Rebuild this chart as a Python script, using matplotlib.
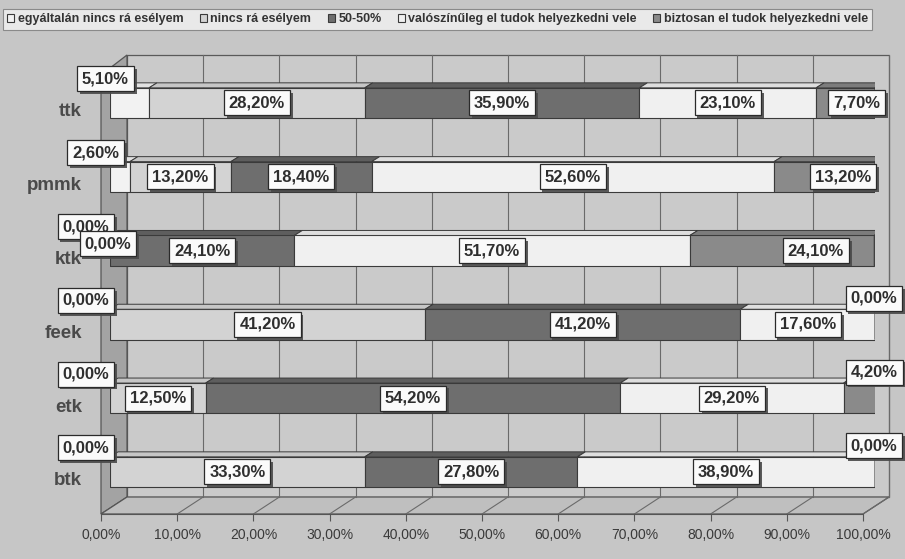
import numpy as np
import matplotlib.pyplot as plt
from matplotlib.patches import Polygon, Rectangle
import matplotlib.patheffects as pe
from matplotlib.ticker import FuncFormatter

plt.rcParams['font.family'] = ['Liberation Sans', 'DejaVu Sans']

# data (percent), rows top to bottom
categories = ['ttk', 'pmmk', 'ktk', 'feek', 'etk', 'btk']
series = ['egyáltalán nincs rá esélyem', 'nincs rá esélyem', '50-50%',
          'valószínűleg el tudok helyezkedni vele',
          'biztosan el tudok helyezkedni vele']
egyaltalan = [5.1, 2.6, 0.0, 0.0, 0.0, 0.0]
nincs = [28.2, 13.2, 0.0, 41.2, 12.5, 33.3]
otven = [35.9, 18.4, 24.1, 41.2, 54.2, 27.8]
valoszinu = [23.1, 52.6, 51.7, 17.6, 29.2, 38.9]
biztosan = [7.7, 13.2, 24.1, 0.0, 4.2, 0.0]
ticks = [0, 10, 20, 30, 40, 50, 60, 70, 80, 90, 100]

data = [egyaltalan, nincs, otven, valoszinu, biztosan]
faces = ['#f2f2f2', '#d3d3d3', '#6e6e6e', '#f0f0f0', '#8a8a8a']
tops = ['#e2e2e2', '#c6c6c6', '#5e5e5e', '#dedede', '#7c7c7c']
ends = ['#bdbdbd', '#a9a9a9', '#4e4e4e', '#bababa', '#5a5a5a']

W, H = 905, 559
fig = plt.figure(figsize=(W / 100, H / 100), dpi=100, facecolor='#c6c6c6')

# background chrome of the 3d chart, in pixel coords
bg = fig.add_axes([0, 0, 1, 1])
bg.set_xlim(0, W)
bg.set_ylim(H, 0)
bg.axis('off')
fx0, bx0, sc = 101, 127, 7.62      # front floor / back wall origin, px per %
fy, by, top = 514, 497, 55
bg.add_patch(Rectangle((bx0, top), 100 * sc, by - top, fc='#cacaca', ec='#5a5a5a', lw=0.9))
bg.add_patch(Polygon([(fx0, 75), (bx0, top), (bx0, by), (fx0, fy)], fc='#a3a3a3', ec='#555555', lw=0.9))
bg.add_patch(Polygon([(fx0, fy), (fx0 + 100 * sc, fy), (bx0 + 100 * sc, by), (bx0, by)],
                     fc='#bfbfbf', ec='#555555', lw=0.9))
for t in ticks[1:]:
    bg.plot([bx0 + t * sc] * 2, [top, by], color='#6a6a6a', lw=0.8)
    bg.plot([fx0 + t * sc, bx0 + t * sc], [fy, by], color='#6a6a6a', lw=0.8)

# front floor axis with the tick labels
axf = fig.add_axes([fx0 / W, (H - fy) / H, 100 * sc / W, 0.0001])
axf.set_xlim(0, 100)
axf.set_xticks(ticks)
axf.xaxis.set_major_formatter(FuncFormatter(lambda v, p: f'{v:.2f}%'.replace('.', ',')))
axf.set_yticks([])
for s in ['top', 'left', 'right']:
    axf.spines[s].set_visible(False)
axf.spines['bottom'].set_color('#555555')
axf.patch.set_alpha(0)
axf.tick_params(axis='x', direction='out', length=5, color='#555555',
                labelsize=10, labelcolor='#3a3a3a', pad=5)

# bars
ax = fig.add_axes([110 / W, (H - 515) / H, 765 / W, 460 / H])
ax.set_xlim(0, 100)
ax.set_ylim(-0.583, 5.65)
ax.axis('off')
ax.patch.set_alpha(0)
ypos = np.arange(len(categories))[::-1]
bh = 0.41
ddx, ddy = 8 / 7.65, 5 / 73.8

lefts = np.zeros(len(categories))
left_list = []
handles = []
for i, vals in enumerate(data):
    vals = np.array(vals)
    b = ax.barh(ypos, vals, left=lefts, height=bh, color=faces[i], edgecolor='#3a3a3a',
                lw=0.8, zorder=3, label=series[i])
    handles.append(b)
    for y, l, v in zip(ypos, lefts, vals):
        if v <= 0:
            continue
        yt = y + bh / 2
        ax.add_patch(Polygon([(l, yt), (l + v, yt), (l + v + ddx, yt + ddy), (l + ddx, yt + ddy)],
                             fc=tops[i], ec='#3a3a3a', lw=0.7, zorder=3))
    left_list.append(lefts.copy())
    lefts = lefts + vals

# right end faces of the last visible segment in each row
for j, y in enumerate(ypos):
    for i in range(len(data) - 1, -1, -1):
        if data[i][j] > 0:
            r = left_list[i][j] + data[i][j]
            ax.add_patch(Polygon([(r, y - bh / 2), (r, y + bh / 2), (r + ddx, y + bh / 2 + ddy),
                                  (r + ddx, y - bh / 2 + ddy)],
                                 fc=ends[i], ec='#3a3a3a', lw=0.7, zorder=3))
            break

# data labels
zero_start = np.zeros(len(categories), dtype=int)
for i, vals in enumerate(data):
    for j, y in enumerate(ypos):
        v = vals[j]
        l = left_list[i][j]
        xc = l + v / 2
        if v < 6 and l < 0.01:
            k = zero_start[j]
            zero_start[j] += 1
            off = (-24 + 22 * k, 24 - 17 * k)
        elif i == len(data) - 1 and v < 6:
            xc = 100
            off = (-1, 26)
        elif i == len(data) - 1:
            off = (1.4 * v, 0)
        else:
            off = (0, 0)
        t = ax.annotate(f'{v:.2f}%'.replace('.', ','), xy=(xc, y), xytext=off,
                        textcoords='offset pixels', ha='center', va='center',
                        fontsize=12, fontweight='bold', color='#2e2e2e', zorder=6,
                        annotation_clip=False,
                        bbox=dict(boxstyle='square,pad=0.3', fc='#fafafa', ec='#2a2a2a', lw=0.9))
        t.get_bbox_patch().set_path_effects([
            pe.SimplePatchShadow(offset=(2, -2), shadow_rgbFace='#4a4a4a', alpha=0.9),
            pe.Normal()])

# category labels
for name, y in zip(categories, ypos):
    ax.annotate(name, xy=(0, y), xytext=(-28, -9), textcoords='offset pixels',
                ha='right', va='center', fontsize=13.5, fontweight='bold', color='#4a4a4a',
                annotation_clip=False)

leg = fig.legend(handles=handles, labels=series, ncol=5, loc='upper left',
                 bbox_to_anchor=(3 / W, 1 - 9 / H), frameon=True, fancybox=False,
                 prop={'size': 9.0, 'weight': 'bold'}, handlelength=0.55, handleheight=0.55,
                 handletextpad=0.3, columnspacing=1.3, borderpad=0.35, borderaxespad=0)
leg.get_frame().set_facecolor('#f3f3f3')
leg.get_frame().set_edgecolor('#777777')
leg.get_frame().set_linewidth(0.8)
for txt in leg.get_texts():
    txt.set_color('#333333')

fig.savefig('out.png', dpi=100, facecolor=fig.get_facecolor())
